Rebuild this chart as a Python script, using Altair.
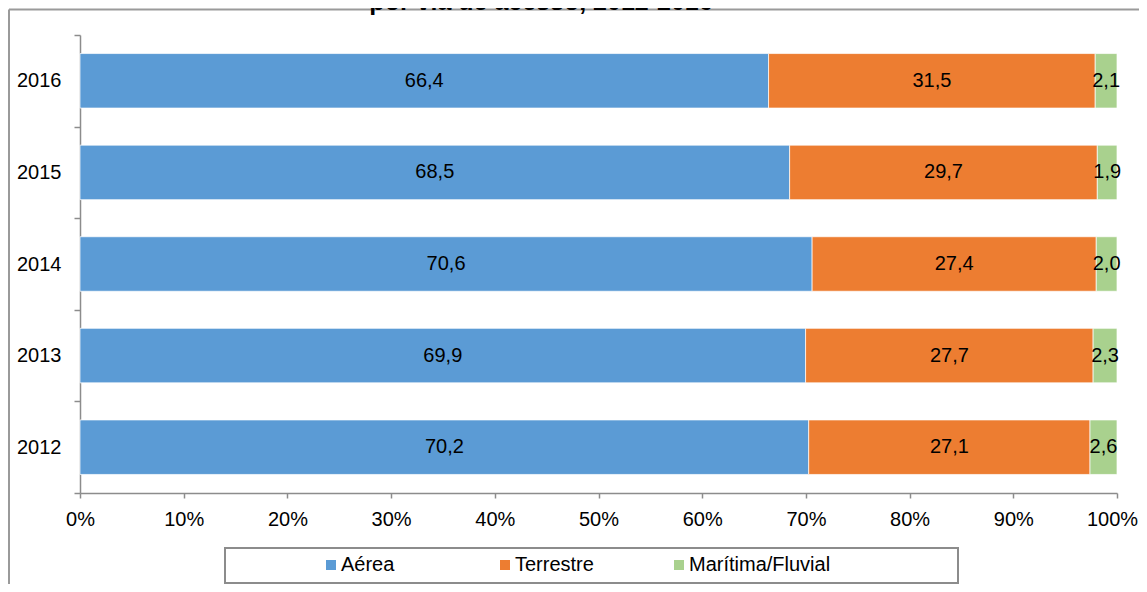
import altair as alt
import pandas as pd

years = ["2016", "2015", "2014", "2013", "2012"]
series = ["Aérea", "Terrestre", "Marítima/Fluvial"]
aerea = [66.4, 68.5, 70.6, 69.9, 70.2]
terrestre = [31.5, 29.7, 27.4, 27.7, 27.1]
maritima = [2.1, 1.9, 2.0, 2.3, 2.6]
colors = ["#5B9BD5", "#ED7D31", "#A9D18E"]
x_ticks = [0, 0.1, 0.2, 0.3, 0.4, 0.5, 0.6, 0.7, 0.8, 0.9, 1.0]
title_text = "por via de acesso, 2012-2016"

rows = []
for i, y in enumerate(years):
    for j, (name, vals) in enumerate(zip(series, [aerea, terrestre, maritima])):
        rows.append({"year": y, "serie": name, "order": j, "value": vals[i]})
df = pd.DataFrame(rows)

FONT = "Liberation Sans"
W, H = 1037, 458

base = alt.Chart(df).transform_stack(
    stack="value", as_=["x0", "x1"], groupby=["year"],
    sort=[alt.SortField("order")], offset="normalize"
).transform_calculate(
    mid="(datum.x0 + datum.x1) / 2",
    label="replace(format(datum.value, '.1f'), '.', ',')"
)

yenc = alt.Y("year:N", sort=years, title=None,
             scale=alt.Scale(paddingInner=0, paddingOuter=0),
             axis=alt.Axis(tickBand="extent", tickSize=6, labelPadding=13,
                           labelFontSize=20, labelFont=FONT, labelColor="black",
                           domainColor="#8c8c8c", tickColor="#8c8c8c",
                           domainWidth=1.5, tickWidth=1.5))

bars = base.mark_bar(stroke="white", strokeWidth=1, strokeOpacity=0.7,
                     height={"band": 0.595}).encode(
    x=alt.X("x0:Q", scale=alt.Scale(domain=[0, 1], nice=False), title=None,
            axis=alt.Axis(values=x_ticks, format="%", tickSize=5, labelPadding=11,
                          labelFontSize=20, labelFont=FONT, labelColor="black",
                          domainColor="#8c8c8c", tickColor="#8c8c8c",
                          domainWidth=1.5, tickWidth=1.5, grid=False,
                          labelFlush=False,
                          labelOffset={"condition": {"test": "datum.value == 1", "value": -5},
                                       "value": 0})),
    x2="x1:Q",
    y=yenc,
    color=alt.Color("serie:N", sort=series,
                    scale=alt.Scale(domain=series, range=colors),
                    legend=alt.Legend(title=None, orient="none", legendX=241, legendY=520,
                                      direction="horizontal", columns=3,
                                      gridAlign="all",
                                      symbolType="square", symbolSize=100,
                                      symbolStrokeWidth=0, labelOffset=0,
                                      columnPadding=12, labelFontSize=20,
                                      labelFont=FONT, labelColor="black", padding=0)),
    order=alt.Order("order:Q"),
)

texts = base.mark_text(fontSize=20, font=FONT, color="black").encode(
    x="mid:Q",
    y=alt.Y("year:N", sort=years),
    text="label:N",
)

one = pd.DataFrame({"k": [0]})
frame_top = alt.Chart(one).mark_rule(color="#9a9a9a", strokeWidth=2).encode(
    x=alt.value(-71), x2=alt.value(1100), y=alt.value(-25.5))
frame_left = alt.Chart(one).mark_rule(color="#9a9a9a", strokeWidth=2).encode(
    x=alt.value(-71), y=alt.value(-25.5), y2=alt.value(560))
legend_box = alt.Chart(one).mark_rect(fill="white", stroke="#8c8c8c", strokeWidth=2).encode(
    x=alt.value(145), x2=alt.value(878), y=alt.value(513), y2=alt.value(548))
title = alt.Chart(one).mark_text(fontSize=25, font=FONT, fontWeight="bold",
                                 color="black", baseline="alphabetic").encode(
    x=alt.value(461), y=alt.value(-25), text=alt.value(title_text))

chart = alt.layer(legend_box, frame_top, frame_left, title, bars, texts).resolve_scale(
    y="shared").properties(
    width=W, height=H,
    autosize=alt.AutoSizeParams(type="none"),
    padding={"left": 72, "top": 27, "right": 22, "bottom": 91},
).configure_view(stroke=None)

chart.save("out.html", embed_options={"renderer": "svg", "actions": False})
